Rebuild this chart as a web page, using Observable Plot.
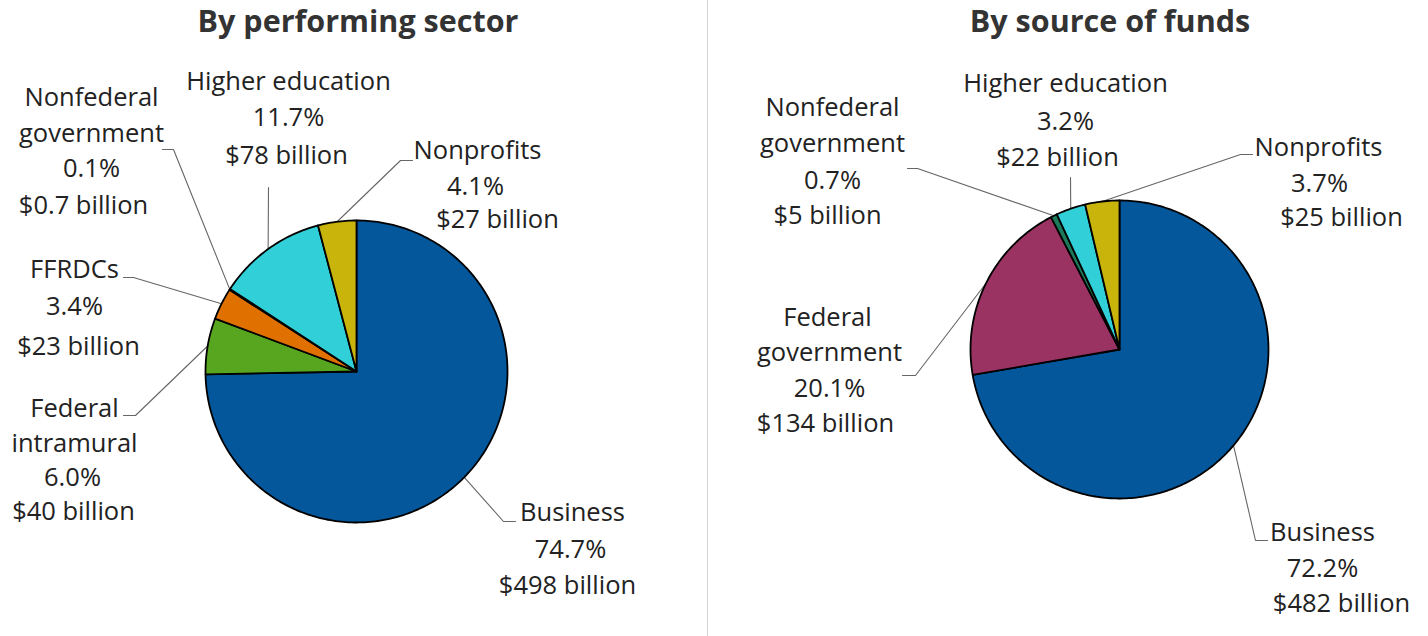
<!DOCTYPE html>
<html>
<head>
<meta charset="utf-8">
<script src="https://cdn.jsdelivr.net/npm/d3@7"></script>
<script src="https://cdn.jsdelivr.net/npm/@observablehq/plot@0.6"></script>
<style>
  html, body { margin: 0; padding: 0; background: #fff; }
  #wrap { position: relative; width: 1428px; height: 636px; overflow: hidden; font-family: "Open Sans", sans-serif; }
  .panel { position: absolute; top: 0; height: 636px; }
  .panel h2 { position: absolute; top: 0; margin: 0; height: 46px; line-height: 41px; font-size: 30.5px; font-weight: 700; color: #333; white-space: nowrap; transform: translateX(-50%); }
  .panel .chart { position: absolute; left: 0; top: 46px; }
  .divider { position: absolute; left: 707px; top: 0; width: 1px; height: 636px; background: #d4d4d4; }
</style>
</head>
<body>
<div id="wrap"><div class="divider"></div></div>
<script>
// ---------- DATA ----------
const performCategories = ["Business", "Federal intramural", "FFRDCs", "Nonfederal government", "Higher education", "Nonprofits"];
const performShares = [74.7, 6.0, 3.4, 0.1, 11.7, 4.1];
const performBillions = ["$498 billion", "$40 billion", "$23 billion", "$0.7 billion", "$78 billion", "$27 billion"];
const performNameLines = [["Business"], ["Federal", "intramural"], ["FFRDCs"], ["Nonfederal", "government"], ["Higher education"], ["Nonprofits"]];

const sourceCategories = ["Business", "Federal government", "Nonfederal government", "Higher education", "Nonprofits"];
const sourceShares = [72.2, 20.1, 0.7, 3.2, 3.7];
const sourceBillions = ["$482 billion", "$134 billion", "$5 billion", "$22 billion", "$25 billion"];
const sourceNameLines = [["Business"], ["Federal", "government"], ["Nonfederal", "government"], ["Higher education"], ["Nonprofits"]];

const panelTitles = ["By performing sector", "By source of funds"];

// ---------- STYLE ----------
const sliceColors = {
  "Business": "#04579b",
  "Federal intramural": "#58a61f",
  "FFRDCs": "#e07000",
  "Nonfederal government": "#1c7a5a",
  "Higher education": "#31d0d8",
  "Nonprofits": "#c9b40c",
  "Federal government": "#9a3262"
};

// ---------- LAYOUT (page pixels) ----------
const PAGE_H = 636, TITLE_H = 46;
const layouts = [
  {
    left: 0, width: 707, titleX: 358, cx: 356, cy: 371, r: 151,
    text: {
      "Business": [[572, 512], [570, 549], [567, 585]],
      "Federal intramural": [[74, 408], [74, 443], [72, 477], [73, 511]],
      "FFRDCs": [[74, 269], [74, 306], [78, 346]],
      "Nonfederal government": [[91, 97], [91, 133], [91, 168], [83, 205]],
      "Higher education": [[288, 81], [288, 117], [286, 155]],
      "Nonprofits": [[477, 150], [475, 186], [497, 219]]
    },
    leader: {
      "Business": [[503, 521], [515, 521]],
      "Federal intramural": [[135, 415], [123, 415]],
      "FFRDCs": [[133, 277], [123, 277]],
      "Nonfederal government": [[173, 149], [162, 149]],
      "Higher education": [[268, 187], [268, 187]],
      "Nonprofits": [[400, 160], [412, 160]]
    }
  },
  {
    left: 708, width: 720, titleX: 1110, cx: 1119, cy: 349, r: 149,
    text: {
      "Business": [[1322, 532], [1322, 568], [1341, 603]],
      "Federal government": [[827, 317], [829, 352], [829, 388], [825, 423]],
      "Nonfederal government": [[832, 107], [832, 143], [832, 180], [827, 215]],
      "Higher education": [[1065, 83], [1065, 121], [1057, 157]],
      "Nonprofits": [[1318, 147], [1319, 183], [1341, 217]]
    },
    leader: {
      "Business": [[1255, 540], [1267, 540]],
      "Federal government": [[915, 375], [902, 375]],
      "Nonfederal government": [[917, 168], [907, 168]],
      "Higher education": [[1070, 177], [1070, 177]],
      "Nonprofits": [[1240, 154], [1252, 154]]
    }
  }
];

const datasets = [
  {categories: performCategories, shares: performShares, billions: performBillions, names: performNameLines},
  {categories: sourceCategories, shares: sourceShares, billions: sourceBillions, names: sourceNameLines}
];

const FONT = '"Open Sans", sans-serif';
const wrap = document.getElementById("wrap");

datasets.forEach((ds, pi) => {
  const L = layouts[pi];
  const H2 = PAGE_H - TITLE_H;
  const toU = px => (px - L.cx) / L.r;
  const toV = py => (L.cy - py) / L.r;

  const rows = ds.categories.map((c, i) => ({category: c, share: ds.shares[i], billions: ds.billions[i], names: ds.names[i]}));
  const arcs = d3.pie().sort(null).value(d => d.share)(rows);

  // slice outlines in unit-circle coordinates (angle from 12 o'clock, clockwise)
  const sliceMarks = arcs.map(a => {
    const pts = [{u: 0, v: 0}];
    const n = Math.max(2, Math.ceil((a.endAngle - a.startAngle) / (Math.PI / 180)));
    for (let i = 0; i <= n; i++) {
      const t = a.startAngle + (a.endAngle - a.startAngle) * i / n;
      pts.push({u: Math.sin(t), v: Math.cos(t)});
    }
    pts.push({u: 0, v: 0});
    return Plot.line(pts, {x: "u", y: "v", fill: sliceColors[a.data.category], stroke: "#000", strokeWidth: 1.8, strokeLinejoin: "round", curve: "linear"});
  });

  // leader lines: from slice mid-angle on the rim, to elbow, to tail
  const leaderPts = [];
  arcs.forEach(a => {
    const c = a.data.category;
    const mid = (a.startAngle + a.endAngle) / 2;
    const [elbow, tail] = L.leader[c];
    leaderPts.push({id: c, u: Math.sin(mid), v: Math.cos(mid)});
    leaderPts.push({id: c, u: toU(elbow[0]), v: toV(elbow[1])});
    leaderPts.push({id: c, u: toU(tail[0]), v: toV(tail[1])});
  });

  // labels
  const textRows = [];
  rows.forEach(r => {
    const lines = [...r.names, r.share.toFixed(1) + "%", r.billions];
    const pos = L.text[r.category];
    lines.forEach((t, k) => textRows.push({t, u: toU(pos[k][0]), v: toV(pos[k][1])}));
  });

  const chart = Plot.plot({
    width: L.width,
    height: H2,
    margin: 0,
    x: {domain: [toU(L.left), toU(L.left + L.width)], axis: null},
    y: {domain: [toV(TITLE_H + H2), toV(TITLE_H)], axis: null},
    style: {fontFamily: FONT, background: "transparent", overflow: "visible"},
    marks: [
      Plot.line(leaderPts, {x: "u", y: "v", z: "id", stroke: "#666", strokeWidth: 1.1, curve: "linear"}),
      ...sliceMarks,
      Plot.text(textRows, {x: "u", y: "v", text: "t", fontSize: 25.5, fill: "#222", textAnchor: "middle", lineAnchor: "middle", fontFamily: FONT})
    ]
  });

  const panel = document.createElement("div");
  panel.className = "panel";
  panel.style.left = L.left + "px";
  panel.style.width = L.width + "px";
  const h2 = document.createElement("h2");
  h2.textContent = panelTitles[pi];
  h2.style.left = (L.titleX - L.left) + "px";
  panel.appendChild(h2);
  const holder = document.createElement("div");
  holder.className = "chart";
  holder.appendChild(chart);
  panel.appendChild(holder);
  wrap.appendChild(panel);
});
</script>
</body>
</html>
